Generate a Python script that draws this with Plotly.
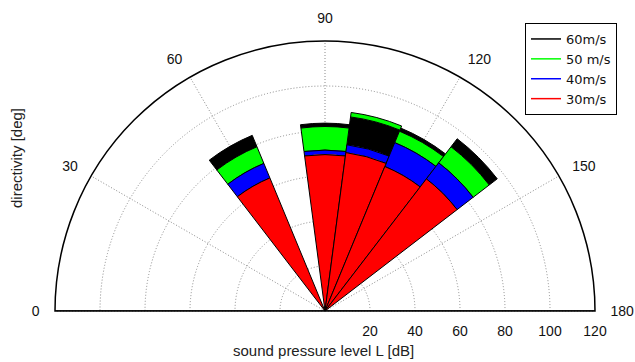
import plotly.graph_objects as go

# ---- data ----
directions = [60, 90, 105, 120, 135]          # directivity [deg]
spl_60 = [84.5, 83.5, 87.0, 88.0, 96.5]       # 60 m/s  [dB]
spl_50 = [79.0, 82.0, 89.0, 86.5, 92.0]       # 50 m/s  [dB]
spl_40 = [71.0, 71.5, 74.5, 81.0, 83.0]       # 40 m/s  [dB]
spl_30 = [64.0, 69.5, 71.0, 69.5, 74.0]       # 30 m/s  [dB]
series_names = ["60m/s", "50 m/s", "40m/s", "30m/s"]
series_colors = ["#000000", "#00ff00", "#0000ff", "#ff0000"]
angle_ticks = [0, 30, 60, 90, 120, 150, 180]
radial_ticks = [20, 40, 60, 80, 100, 120]
sector_width = 15
r_max = 120

series = [spl_60, spl_50, spl_40, spl_30]

fig = go.Figure()

# each series is drawn as the ring between the next lower level and its own level
for k, vals in enumerate(series):
    bases, lens = [], []
    for j, v in enumerate(vals):
        lower = [s[j] for s in series if s[j] < v]
        b = max(lower) if lower else 0
        bases.append(b)
        lens.append(v - b)
    fig.add_trace(go.Barpolar(
        r=lens, base=bases, theta=directions, width=sector_width,
        marker=dict(color=series_colors[k], line=dict(color="black", width=1)),
        showlegend=False, hoverinfo="skip"))

# baseline (diameter) of the half polar plot
fig.add_trace(go.Scatterpolar(
    r=[r_max, 0, r_max], theta=[angle_ticks[0], angle_ticks[0], angle_ticks[-1]],
    mode="lines", line=dict(color="black", width=1.5),
    showlegend=False, hoverinfo="skip"))

# legend entries (line samples as in the reference)
for name, col in zip(series_names, series_colors):
    fig.add_trace(go.Scatterpolar(
        r=[r_max * 2], theta=[directions[0]], mode="lines", name=name,
        line=dict(color=col, width=1.5), hoverinfo="skip"))

W, H = 635, 362
cx, cy, R = 325, 311, 270

# with clockwise direction plotly runs the angular axis over [-360, 0]
angle_tickvals = [a - 360 for a in angle_ticks]

fig.update_layout(
    width=W, height=H,
    margin=dict(l=0, r=0, t=0, b=0),
    paper_bgcolor="white",
    barmode="overlay",
    font=dict(family="Liberation Sans, Arial, sans-serif", size=14, color="#111"),
    polar=dict(
        domain=dict(x=[(cx - R) / W, (cx + R) / W], y=[(H - cy) / H, (H - cy + R) / H]),
        sector=[0, 180],
        bgcolor="white",
        angularaxis=dict(
            type="linear", thetaunit="degrees",
            rotation=180, direction="clockwise",
            tickmode="array", tickvals=angle_tickvals,
            ticktext=[str(a) for a in angle_ticks],
            ticks="outside", ticklen=12, tickcolor="rgba(0,0,0,0)",
            showticklabels=True,
            showline=True, linecolor="black", linewidth=1.5,
            showgrid=True, gridcolor="#8a8a8a", griddash="1px,2px", gridwidth=1,
            tickfont=dict(size=14, color="#111"),
        ),
        radialaxis=dict(
            range=[0, r_max], angle=0, side="clockwise",
            tickmode="array", tickvals=radial_ticks,
            ticks="outside", ticklen=8, tickcolor="rgba(0,0,0,0)",
            showline=False,
            showgrid=True, gridcolor="#8a8a8a", griddash="1px,2px", gridwidth=1,
            tickfont=dict(size=14, color="#111"),
            tickangle=0,
        ),
    ),
    legend=dict(
        x=617 / W, xanchor="right", y=1 - 23 / H, yanchor="top",
        bgcolor="white", bordercolor="black", borderwidth=1,
        font=dict(family="DejaVu Sans, sans-serif", size=13, color="#111"), tracegroupgap=0,
    ),
    annotations=[
        dict(text="directivity [deg]", x=16 / W, y=1 - 158 / H, xref="paper", yref="paper",
             xanchor="center", yanchor="middle",
             showarrow=False, textangle=-90, font=dict(size=15, color="#222")),
        dict(text="sound pressure level L [dB]", x=323 / W, y=1 - 350 / H, xref="paper", yref="paper",
             xanchor="center", yanchor="middle",
             showarrow=False, font=dict(size=15, color="#222")),
    ],
)

fig.write_html("out.html")
